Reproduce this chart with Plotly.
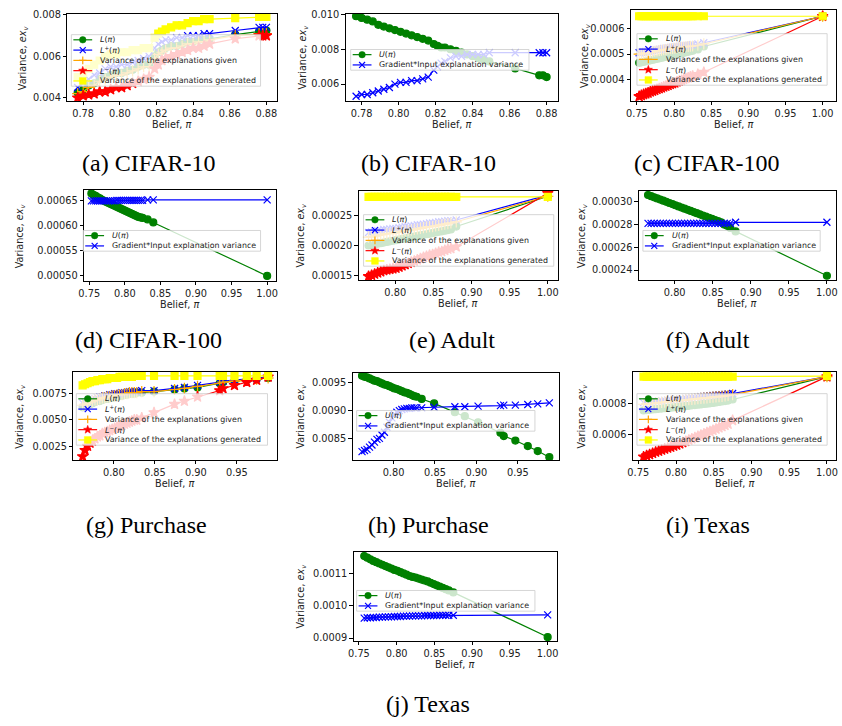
import math
import plotly.graph_objects as go

W, H = 842, 726

# ---------------- DATA ----------------
# CIFAR-10 (panels a, b)
x_cifar10 = [0.777, 0.780, 0.783, 0.786, 0.789, 0.792, 0.795, 0.798, 0.801, 0.804,
             0.807, 0.810, 0.813, 0.816, 0.819, 0.821, 0.823, 0.825, 0.828, 0.831,
             0.834, 0.837, 0.840, 0.843, 0.846, 0.849, 0.863, 0.876, 0.878, 0.880]
a_L = [0.00425, 0.0044, 0.0046, 0.0047, 0.0049, 0.0050, 0.0051, 0.0052, 0.0052, 0.0053,
       0.00535, 0.0055, 0.0056, 0.0056, 0.0060, 0.0062, 0.0063, 0.0064, 0.0065, 0.0065,
       0.0066, 0.0067, 0.0067, 0.0068, 0.0068, 0.00685, 0.00705, 0.0072, 0.0072, 0.00725]
a_Lp = [0.0045, 0.0047, 0.0049, 0.0051, 0.0052, 0.0054, 0.0055, 0.0055, 0.0056, 0.0056,
        0.0057, 0.0058, 0.0059, 0.0060, 0.0064, 0.0066, 0.0067, 0.0068, 0.0068, 0.0069,
        0.0069, 0.0070, 0.0070, 0.0070, 0.0071, 0.0071, 0.00725, 0.0074, 0.0074, 0.0074]
a_given = [0.0042, 0.0043, 0.0045, 0.0046, 0.0048, 0.0049, 0.0050, 0.0051, 0.0051, 0.0052,
           0.0053, 0.0054, 0.0055, 0.0055, 0.0059, 0.0061, 0.0062, 0.0063, 0.0064, 0.0064,
           0.0065, 0.0066, 0.0066, 0.0067, 0.0067, 0.0068, 0.0070, 0.0071, 0.0071, 0.0071]
a_Lm = [0.0040, 0.0041, 0.00415, 0.0042, 0.0043, 0.0043, 0.0044, 0.0045, 0.0045, 0.0046,
        0.0047, 0.0048, 0.0049, 0.0050, 0.0054, 0.0056, 0.0058, 0.0059, 0.0060, 0.0061,
        0.0062, 0.0063, 0.0064, 0.0064, 0.0065, 0.0066, 0.00685, 0.0070, 0.0070, 0.0070]
a_gen = [0.0050, 0.0052, 0.0054, 0.0056, 0.0058, 0.0060, 0.0061, 0.0061, 0.0062, 0.0062,
         0.0063, 0.0063, 0.0064, 0.0064, 0.0069, 0.0071, 0.0072, 0.0073, 0.0074, 0.0075,
         0.0075, 0.0076, 0.0077, 0.0077, 0.0078, 0.0078, 0.00785, 0.0079, 0.0079, 0.0079]
b_U = [0.0099, 0.0098, 0.0097, 0.0096, 0.0094, 0.0093, 0.0092, 0.0091, 0.0090, 0.0089,
       0.0088, 0.0087, 0.0086, 0.0085, 0.0083, 0.0082, 0.0081, 0.0081, 0.0080, 0.0079,
       0.0078, 0.0077, 0.0076, 0.0075, 0.0074, 0.0073, 0.0069, 0.0065, 0.0065, 0.0064]
b_GI = [0.0053, 0.0054, 0.0054, 0.0055, 0.0056, 0.0057, 0.0058, 0.0060, 0.0061, 0.0061,
        0.0062, 0.0062, 0.0063, 0.0064, 0.0068, 0.0070, 0.0072, 0.0073, 0.0075, 0.0076,
        0.0076, 0.0077, 0.0077, 0.0077, 0.0077, 0.0078, 0.0078, 0.0078, 0.0078, 0.0078]

# CIFAR-100 (panels c, d)
x_cifar100 = [0.753, 0.756, 0.759, 0.762, 0.765, 0.768, 0.771, 0.774, 0.777, 0.780,
              0.783, 0.786, 0.789, 0.792, 0.795, 0.798, 0.801, 0.804, 0.807, 0.810,
              0.813, 0.816, 0.819, 0.822, 0.825, 0.832, 0.840, 1.000]
c_L = [0.000465, 0.000467, 0.000469, 0.000471, 0.000473, 0.000475, 0.000477, 0.000479, 0.000481, 0.000483,
       0.000485, 0.000487, 0.000489, 0.000491, 0.000493, 0.000495, 0.000497, 0.000499, 0.000501, 0.000503,
       0.000505, 0.000507, 0.000509, 0.000511, 0.000513, 0.000518, 0.000530, 0.00065]
c_Lp = [0.000505, 0.000507, 0.000508, 0.000510, 0.000511, 0.000513, 0.000514, 0.000516, 0.000517, 0.000519,
        0.000520, 0.000522, 0.000523, 0.000525, 0.000526, 0.000527, 0.000528, 0.000530, 0.000531, 0.000532,
        0.000533, 0.000534, 0.000535, 0.000536, 0.000537, 0.000540, 0.000545, 0.00065]
c_given = [0.000500, 0.000502, 0.000503, 0.000505, 0.000506, 0.000508, 0.000509, 0.000511, 0.000512, 0.000514,
           0.000515, 0.000517, 0.000518, 0.000520, 0.000521, 0.000522, 0.000523, 0.000525, 0.000526, 0.000527,
           0.000528, 0.000529, 0.000530, 0.000531, 0.000532, 0.000535, 0.000540, 0.00065]
c_Lm = [0.000332, 0.000336, 0.000340, 0.000343, 0.000346, 0.000350, 0.000353, 0.000356, 0.000360, 0.000363,
        0.000366, 0.000370, 0.000373, 0.000376, 0.000380, 0.000383, 0.000386, 0.000390, 0.000393, 0.000396,
        0.000400, 0.000403, 0.000406, 0.000410, 0.000413, 0.000420, 0.000428, 0.00065]
c_gen = [0.00065] * 27 + [0.00065]
d_U = [0.000665, 0.000662, 0.000660, 0.000657, 0.000655, 0.000652, 0.000650, 0.000648, 0.000646, 0.000644,
       0.000642, 0.000640, 0.000638, 0.000636, 0.000634, 0.000632, 0.000630, 0.000628, 0.000626, 0.000624,
       0.000622, 0.000620, 0.000618, 0.000617, 0.000616, 0.000613, 0.000607, 0.000500]
d_GI = [0.000650, 0.000650, 0.000650, 0.000650, 0.000650, 0.000650, 0.000650, 0.000650, 0.000650, 0.000650,
        0.000650, 0.000650, 0.000651, 0.000651, 0.000651, 0.000651, 0.000651, 0.000651, 0.000651, 0.000651,
        0.000651, 0.000651, 0.000651, 0.000651, 0.000651, 0.000652, 0.000652, 0.000652]

# Adult (panels e, f)
x_adult = [0.765, 0.769, 0.773, 0.777, 0.781, 0.785, 0.789, 0.793, 0.797, 0.801,
           0.805, 0.809, 0.813, 0.817, 0.821, 0.825, 0.829, 0.833, 0.837, 0.841,
           0.845, 0.849, 0.853, 0.857, 0.861, 0.865, 0.869, 0.873, 0.880, 1.000]
e_L = [0.000200, 0.000201, 0.000202, 0.000203, 0.000204, 0.000205, 0.000206, 0.000207, 0.000208, 0.000209,
       0.000210, 0.000211, 0.000212, 0.000213, 0.000214, 0.000215, 0.000216, 0.000217, 0.000218, 0.000219,
       0.000220, 0.000221, 0.000222, 0.000223, 0.000224, 0.000225, 0.000226, 0.000227, 0.000232, 0.000283]
e_Lp = [0.000222, 0.000223, 0.000224, 0.000225, 0.000226, 0.000227, 0.000227, 0.000228, 0.000229, 0.000229,
        0.000230, 0.000231, 0.000232, 0.000232, 0.000233, 0.000234, 0.000235, 0.000235, 0.000236, 0.000237,
        0.000238, 0.000238, 0.000239, 0.000240, 0.000240, 0.000241, 0.000242, 0.000242, 0.000243, 0.000285]
e_given = [0.000214, 0.000215, 0.000216, 0.000217, 0.000218, 0.000219, 0.000220, 0.000220, 0.000221, 0.000222,
           0.000223, 0.000224, 0.000225, 0.000225, 0.000226, 0.000227, 0.000228, 0.000229, 0.000230, 0.000231,
           0.000232, 0.000232, 0.000233, 0.000234, 0.000235, 0.000236, 0.000237, 0.000238, 0.000240, 0.000283]
e_Lm = [0.000148, 0.000150, 0.000152, 0.000154, 0.000156, 0.000158, 0.000159, 0.000160, 0.000161, 0.000162,
        0.000164, 0.000166, 0.000168, 0.000170, 0.000172, 0.000174, 0.000176, 0.000178, 0.000180, 0.000182,
        0.000184, 0.000185, 0.000187, 0.000189, 0.000190, 0.000192, 0.000194, 0.000195, 0.000198, 0.000288]
e_gen = [0.000282] * 29 + [0.000282]
f_U = [0.000306, 0.000305, 0.000304, 0.000303, 0.000302, 0.000301, 0.000300, 0.000299, 0.000298, 0.000297,
       0.000296, 0.000295, 0.000294, 0.000293, 0.000292, 0.000291, 0.000290, 0.000289, 0.000288, 0.000287,
       0.000286, 0.000285, 0.000284, 0.000283, 0.000282, 0.000280, 0.000279, 0.000277, 0.000274, 0.000235]
f_GI = [0.000281] * 28 + [0.000282, 0.000282]

# Purchase (panels g, h)
x_purchase = [0.762, 0.765, 0.768, 0.771, 0.774, 0.777, 0.780, 0.783, 0.786, 0.789,
              0.792, 0.795, 0.798, 0.801, 0.804, 0.807, 0.810, 0.813, 0.816, 0.819,
              0.822, 0.825, 0.828, 0.834, 0.849, 0.874, 0.886, 0.902, 0.929, 0.933,
              0.947, 0.962, 0.974, 0.988]
g_L = [0.0062, 0.0063, 0.0064, 0.0065, 0.0066, 0.0067, 0.0068, 0.0068, 0.0069, 0.0070,
       0.0070, 0.0071, 0.0071, 0.0072, 0.0072, 0.0073, 0.0073, 0.0074, 0.0074, 0.0075,
       0.0075, 0.0075, 0.0076, 0.0076, 0.0077, 0.0079, 0.0080, 0.0081, 0.0085, 0.0086,
       0.0087, 0.0088, 0.0089, 0.0090]
g_Lp = [0.0066, 0.0067, 0.0068, 0.0069, 0.0070, 0.0070, 0.0071, 0.0072, 0.0072, 0.0073,
        0.0073, 0.0074, 0.0074, 0.0075, 0.0075, 0.0075, 0.0076, 0.0076, 0.0076, 0.0077,
        0.0077, 0.0077, 0.0077, 0.0078, 0.0078, 0.0080, 0.0081, 0.0083, 0.0086, 0.0087,
        0.0088, 0.0089, 0.0090, 0.0091]
g_given = [0.0064, 0.0065, 0.0066, 0.0067, 0.0068, 0.0069, 0.0069, 0.0070, 0.0071, 0.0071,
           0.0072, 0.0072, 0.0073, 0.0073, 0.0074, 0.0074, 0.0074, 0.0075, 0.0075, 0.0076,
           0.0076, 0.0076, 0.0076, 0.0077, 0.0077, 0.0079, 0.0080, 0.0082, 0.0085, 0.0086,
           0.0087, 0.0088, 0.0089, 0.0090]
g_Lm = [0.0015, 0.0021, 0.0025, 0.0028, 0.0030, 0.0032, 0.0034, 0.0035, 0.0037, 0.0038,
        0.0039, 0.0040, 0.0041, 0.0042, 0.0043, 0.0044, 0.0045, 0.0046, 0.0047, 0.0048,
        0.0049, 0.0050, 0.0050, 0.0052, 0.0057, 0.0065, 0.0068, 0.0072, 0.0078, 0.0080,
        0.0083, 0.0086, 0.0088, 0.0091]
g_gen = [0.0083, 0.0084, 0.0085, 0.0086, 0.0087, 0.0087, 0.0088, 0.0088, 0.0089, 0.0089,
         0.0089, 0.0090, 0.0090, 0.0090, 0.0090, 0.0091, 0.0091, 0.0091, 0.0091, 0.0091,
         0.0091, 0.0092, 0.0092, 0.0092, 0.0092, 0.0092, 0.0092, 0.0092, 0.0092, 0.0092,
         0.0092, 0.0092, 0.0092, 0.0092]
h_U = [0.00963, 0.00961, 0.00960, 0.00958, 0.00956, 0.00954, 0.00953, 0.00951, 0.00949, 0.00947,
       0.00946, 0.00944, 0.00942, 0.00940, 0.00939, 0.00937, 0.00935, 0.00933, 0.00932, 0.00930,
       0.00928, 0.00926, 0.00925, 0.00921, 0.00913, 0.00897, 0.00890, 0.00879, 0.00860, 0.00854,
       0.00846, 0.00836, 0.00827, 0.00816]
h_GI = [0.00826, 0.00828, 0.00830, 0.00834, 0.00838, 0.00843, 0.00848, 0.00850, 0.00856, 0.00861,
        0.00870, 0.00879, 0.00887, 0.00893, 0.00897, 0.00900, 0.00902, 0.00903, 0.00904, 0.00904,
        0.00905, 0.00905, 0.00905, 0.00905, 0.00906, 0.00907, 0.00907, 0.00908, 0.00909, 0.00910,
        0.00910, 0.00911, 0.00912, 0.00914]

# Texas (panels i, j)
x_texas = [0.757, 0.761, 0.765, 0.769, 0.773, 0.777, 0.781, 0.785, 0.789, 0.793,
           0.797, 0.801, 0.805, 0.809, 0.813, 0.817, 0.821, 0.825, 0.829, 0.833,
           0.837, 0.841, 0.845, 0.849, 0.853, 0.857, 0.861, 0.865, 0.869, 0.875, 1.000]
i_L = [0.000755, 0.000757, 0.000759, 0.000761, 0.000763, 0.000765, 0.000767, 0.000769, 0.000771, 0.000773,
       0.000775, 0.000777, 0.000779, 0.000781, 0.000783, 0.000785, 0.000788, 0.000790, 0.000792, 0.000794,
       0.000797, 0.000799, 0.000801, 0.000804, 0.000807, 0.000810, 0.000813, 0.000816, 0.000819, 0.000826, 0.000975]
i_Lp = [0.000806, 0.000808, 0.000810, 0.000812, 0.000814, 0.000816, 0.000818, 0.000820, 0.000822, 0.000824,
        0.000826, 0.000828, 0.000830, 0.000832, 0.000834, 0.000836, 0.000838, 0.000840, 0.000842, 0.000844,
        0.000846, 0.000848, 0.000850, 0.000852, 0.000854, 0.000856, 0.000858, 0.000860, 0.000862, 0.000865, 0.000975]
i_given = [0.000795, 0.000797, 0.000799, 0.000801, 0.000803, 0.000805, 0.000807, 0.000809, 0.000811, 0.000813,
           0.000815, 0.000817, 0.000819, 0.000821, 0.000823, 0.000825, 0.000827, 0.000829, 0.000831, 0.000833,
           0.000835, 0.000837, 0.000839, 0.000841, 0.000843, 0.000845, 0.000847, 0.000849, 0.000852, 0.000858, 0.000975]
i_Lm = [0.000452, 0.000460, 0.000468, 0.000476, 0.000484, 0.000490, 0.000497, 0.000504, 0.000510, 0.000516,
        0.000523, 0.000530, 0.000538, 0.000546, 0.000554, 0.000562, 0.000570, 0.000578, 0.000586, 0.000594,
        0.000602, 0.000610, 0.000618, 0.000626, 0.000634, 0.000642, 0.000650, 0.000658, 0.000666, 0.000690, 0.000975]
i_gen = [0.000975] * 30 + [0.000978]
j_U = [0.001155, 0.001150, 0.001145, 0.001140, 0.001136, 0.001132, 0.001128, 0.001124, 0.001120, 0.001116,
       0.001112, 0.001109, 0.001105, 0.001101, 0.001097, 0.001093, 0.001090, 0.001088, 0.001085, 0.001082,
       0.001079, 0.001076, 0.001072, 0.001068, 0.001064, 0.001060, 0.001056, 0.001052, 0.001048, 0.001042, 0.000903]
j_GI = [0.000962, 0.000963, 0.000963, 0.000964, 0.000964, 0.000965, 0.000965, 0.000966, 0.000966, 0.000966,
        0.000967, 0.000967, 0.000967, 0.000968, 0.000968, 0.000968, 0.000969, 0.000969, 0.000969, 0.000969,
        0.000970, 0.000970, 0.000970, 0.000970, 0.000970, 0.000971, 0.000971, 0.000971, 0.000971, 0.000971, 0.000972]

# tick labels
xt_c10 = [0.78, 0.80, 0.82, 0.84, 0.86, 0.88]
xt_full = [0.75, 0.80, 0.85, 0.90, 0.95, 1.00]
xt_80 = [0.80, 0.85, 0.90, 0.95, 1.00]
xt_pur = [0.80, 0.85, 0.90, 0.95]
yt_a = [0.004, 0.006, 0.008]; yl_a = ["0.004", "0.006", "0.008"]
yt_b = [0.006, 0.008, 0.010]; yl_b = ["0.006", "0.008", "0.010"]
yt_c = [0.0004, 0.0005, 0.0006]; yl_c = ["0.0004", "0.0005", "0.0006"]
yt_d = [0.0005, 0.00055, 0.0006, 0.00065]; yl_d = ["0.00050", "0.00055", "0.00060", "0.00065"]
yt_e = [0.00015, 0.0002, 0.00025]; yl_e = ["0.00015", "0.00020", "0.00025"]
yt_f = [0.00024, 0.00026, 0.00028, 0.0003]; yl_f = ["0.00024", "0.00026", "0.00028", "0.00030"]
yt_g = [0.0025, 0.005, 0.0075]; yl_g = ["0.0025", "0.0050", "0.0075"]
yt_h = [0.0085, 0.009, 0.0095]; yl_h = ["0.0085", "0.0090", "0.0095"]
yt_i = [0.0006, 0.0008]; yl_i = ["0.0006", "0.0008"]
yt_j = [0.0009, 0.0010, 0.0011]; yl_j = ["0.0009", "0.0010", "0.0011"]

captions = ["(a) CIFAR-10", "(b) CIFAR-10", "(c) CIFAR-100", "(d) CIFAR-100", "(e) Adult",
            "(f) Adult", "(g) Purchase", "(h) Purchase", "(i) Texas", "(j) Texas"]

LBL = {
    "L": "<i>L</i>(<i>π</i>)",
    "Lp": "<i>L</i><sup>+</sup>(<i>π</i>)",
    "given": "Variance of the explanations given",
    "Lm": "<i>L</i><sup>−</sup>(<i>π</i>)",
    "gen": "Variance of the explanations generated",
    "U": "<i>U</i>(<i>π</i>)",
    "GI": "Gradient*Input explanation variance",
}
STY = {
    "L": dict(color="#008000", symbol="circle", size=7),
    "Lp": dict(color="#0000ff", symbol="x-thin-open", size=7),
    "given": dict(color="#ffa500", symbol="cross-thin-open", size=8),
    "Lm": dict(color="#ff0000", symbol="star", size=8),
    "gen": dict(color="#ffff00", symbol="square", size=7),
    "U": dict(color="#008000", symbol="circle", size=7),
    "GI": dict(color="#0000ff", symbol="x-thin-open", size=7),
}

def five(x, L, Lp, given, Lm, gen):
    return [("L", x, L), ("Lp", x, Lp), ("given", x, given), ("Lm", x, Lm), ("gen", x, gen)]

def two(x, U, GI):
    return [("U", x, U), ("GI", x, GI)]

panels = [
    dict(box=(62, 274, 9, 97), xr=[0.7714, 0.886], yr=[0.00385, 0.00805], xt=xt_c10, yt=yt_a, yl=yl_a,
         s=five(x_cifar10, a_L, a_Lp, a_given, a_Lm, a_gen), leg=(66, 30, 191), cap=(144, 160), yx=18),
    dict(box=(343, 557, 9, 97), xr=[0.7714, 0.886], yr=[0.00503, 0.01003], xt=xt_c10, yt=yt_b, yl=yl_b,
         s=two(x_cifar10, b_U, b_GI), leg=(348, 45, 180), cap=(427, 160), yx=300),
    dict(box=(631, 838, 5, 97), xr=[0.742, 1.018], yr=[0.000314, 0.000675], xt=xt_full, yt=yt_c, yl=yl_c,
         s=five(x_cifar100, c_L, c_Lp, c_given, c_Lm, c_gen), leg=(637, 29, 192), cap=(708, 160), yx=585),
    dict(box=(79, 273, 187, 279), xr=[0.743, 1.013], yr=[0.00049, 0.000672], xt=xt_full, yt=yt_d, yl=yl_d,
         s=two(x_cifar100, d_U, d_GI), leg=(78, 228, 179), cap=(144, 339), yx=15),
    dict(box=(356, 557, 188, 278), xr=[0.752, 1.013], yr=[0.000142, 0.000292], xt=xt_80, yt=yt_e, yl=yl_e,
         s=five(x_adult, e_L, e_Lp, e_given, e_Lm, e_gen), leg=(361, 212, 192), cap=(450, 339), yx=298),
    dict(box=(639, 838, 188, 278), xr=[0.753, 1.012], yr=[0.0002313, 0.0003096], xt=xt_80, yt=yt_f, yl=yl_f,
         s=two(x_adult, f_U, f_GI), leg=(643, 228, 179), cap=(709, 339), yx=582),
    dict(box=(68, 274, 371, 460), xr=[0.7507, 0.9993], yr=[0.00118, 0.00958], xt=xt_pur, yt=yt_g, yl=yl_g,
         s=five(x_purchase, g_L, g_Lp, g_given, g_Lm, g_gen), leg=(71, 393, 193), cap=(142, 526), yx=15),
    dict(box=(350, 558, 372, 460), xr=[0.7507, 0.9993], yr=[0.00811, 0.00968], xt=xt_pur, yt=yt_h, yl=yl_h,
         s=two(x_purchase, h_U, h_GI), leg=(354, 410, 180), cap=(427, 526), yx=298),
    dict(box=(633, 838, 371, 460), xr=[0.743, 1.012], yr=[0.000432, 0.001006], xt=xt_full, yt=yt_i, yl=yl_i,
         s=five(x_texas, i_L, i_Lp, i_given, i_Lm, i_gen), leg=(637, 393, 192), cap=(709, 526), yx=582),
    dict(box=(351, 556, 553, 643), xr=[0.743, 1.012], yr=[0.000891, 0.001168], xt=xt_full, yt=yt_j, yl=yl_j,
         s=two(x_texas, j_U, j_GI), leg=(354, 592, 180), cap=(426, 707), yx=298),
]

FONT = "DejaVu Sans"
TXT = "#222222"

def PX(px):
    return px / W

def PY(py):
    return 1 - py / H

fig = go.Figure()
shapes = []
annotations = []

for k, p in enumerate(panels):
    n = k + 1
    xa = "x" if n == 1 else f"x{n}"
    ya = "y" if n == 1 else f"y{n}"
    l, r, t, b = p["box"]
    for key, xs, ys in p["s"]:
        st = STY[key]
        fig.add_trace(go.Scatter(
            x=xs, y=ys, xaxis=xa, yaxis=ya, mode="lines+markers", showlegend=False,
            line=dict(color=st["color"], width=1.2),
            marker=dict(symbol=st["symbol"], size=st["size"], color=st["color"],
                        line=dict(color=st["color"], width=1.2)),
            hoverinfo="skip"))
    axis_common = dict(showline=True, linecolor="black", linewidth=1, mirror=True,
                       ticks="outside", ticklen=3.5, tickwidth=1, tickcolor="black",
                       showgrid=False, zeroline=False, ticklabeloverflow="allow",
                       tickfont=dict(family=FONT, size=9.8, color=TXT))
    fig.layout[("xaxis" if n == 1 else f"xaxis{n}")] = dict(
        domain=[PX(l), PX(r)], range=p["xr"], anchor=ya, tickvals=p["xt"],
        ticktext=[f"{v:.2f}" for v in p["xt"]], **axis_common)
    fig.layout[("yaxis" if n == 1 else f"yaxis{n}")] = dict(
        domain=[PY(b), PY(t)], range=p["yr"], anchor=xa, tickvals=p["yt"], ticktext=p["yl"],
        **axis_common)

    annotations.append(dict(text="Belief, <i>π</i>", x=PX((l + r) / 2), y=PY(b + 24), xref="paper", yref="paper",
                            showarrow=False, xanchor="center", yanchor="middle",
                            font=dict(family=FONT, size=9.7, color=TXT)))
    annotations.append(dict(text="Variance, <i>ex</i><sub><i>v</i></sub>", x=PX(p["yx"]), y=PY((t + b) / 2),
                            xref="paper", yref="paper", showarrow=False, textangle=-90,
                            xanchor="center", yanchor="middle", font=dict(family=FONT, size=9.7, color=TXT)))
    annotations.append(dict(text=captions[k], x=PX(p["cap"][0]), y=PY(p["cap"][1]), xref="paper", yref="paper",
                            showarrow=False, xanchor="center", yanchor="middle",
                            font=dict(family="Liberation Serif", size=24, color="black")))

    ll, lt, lw = p["leg"]
    items = [key for key, _, _ in p["s"]]
    nh = len(items)
    lh = 10.4 * (nh - 1) + 10.5
    shapes.append(dict(type="rect", xref="paper", yref="paper", x0=PX(ll), x1=PX(ll + lw), y0=PY(lt + lh),
                       y1=PY(lt), fillcolor="rgba(255,255,255,0.8)", line=dict(color="#cccccc", width=0.8),
                       layer="above"))
    for i, key in enumerate(items):
        st = STY[key]
        cy = lt + 5.2 + 10.4 * i
        cx = ll + 11.5
        col = st["color"]
        shapes.append(dict(type="line", xref="paper", yref="paper", x0=PX(ll + 2), x1=PX(ll + 21),
                           y0=PY(cy), y1=PY(cy), line=dict(color=col, width=1.2), layer="above"))
        sym = st["symbol"]
        if sym == "circle":
            rr = 3.3
            shapes.append(dict(type="circle", xref="paper", yref="paper", x0=PX(cx - rr), x1=PX(cx + rr),
                               y0=PY(cy + rr), y1=PY(cy - rr), fillcolor=col, line=dict(color=col, width=0.5),
                               layer="above"))
        elif sym == "square":
            rr = 3.4
            shapes.append(dict(type="rect", xref="paper", yref="paper", x0=PX(cx - rr), x1=PX(cx + rr),
                               y0=PY(cy + rr), y1=PY(cy - rr), fillcolor=col, line=dict(color=col, width=0.5),
                               layer="above"))
        elif sym == "x-thin-open":
            rr = 3.0
            path = (f"M{PX(cx-rr)},{PY(cy-rr)} L{PX(cx+rr)},{PY(cy+rr)} "
                    f"M{PX(cx-rr)},{PY(cy+rr)} L{PX(cx+rr)},{PY(cy-rr)}")
            shapes.append(dict(type="path", xref="paper", yref="paper", path=path,
                               line=dict(color=col, width=1.2), layer="above"))
        elif sym == "cross-thin-open":
            rr = 3.8
            path = (f"M{PX(cx-rr)},{PY(cy)} L{PX(cx+rr)},{PY(cy)} "
                    f"M{PX(cx)},{PY(cy-rr)} L{PX(cx)},{PY(cy+rr)}")
            shapes.append(dict(type="path", xref="paper", yref="paper", path=path,
                               line=dict(color=col, width=1.2), layer="above"))
        elif sym == "star":
            pts = []
            for j in range(10):
                ang = -math.pi / 2 + j * math.pi / 5
                rad = 4.4 if j % 2 == 0 else 1.9
                pts.append((cx + rad * math.cos(ang), cy + rad * math.sin(ang)))
            path = "M" + " L".join(f"{PX(a)},{PY(c)}" for a, c in pts) + " Z"
            shapes.append(dict(type="path", xref="paper", yref="paper", path=path, fillcolor=col,
                               line=dict(color=col, width=0.5), layer="above"))
        annotations.append(dict(text=LBL[key], x=PX(ll + 27), y=PY(cy), xref="paper", yref="paper",
                                showarrow=False, xanchor="left", yanchor="middle",
                                font=dict(family=FONT, size=7.9, color=TXT)))

fig.update_layout(width=W, height=H, autosize=False, margin=dict(l=0, r=0, t=0, b=0),
                  paper_bgcolor="white", plot_bgcolor="white", shapes=shapes, annotations=annotations,
                  showlegend=False)

fig.write_html("out.html", config={"displayModeBar": False, "staticPlot": True},
               post_script="document.body.style.margin='0';document.body.style.padding='0';"
                           "document.body.style.overflow='hidden';")
